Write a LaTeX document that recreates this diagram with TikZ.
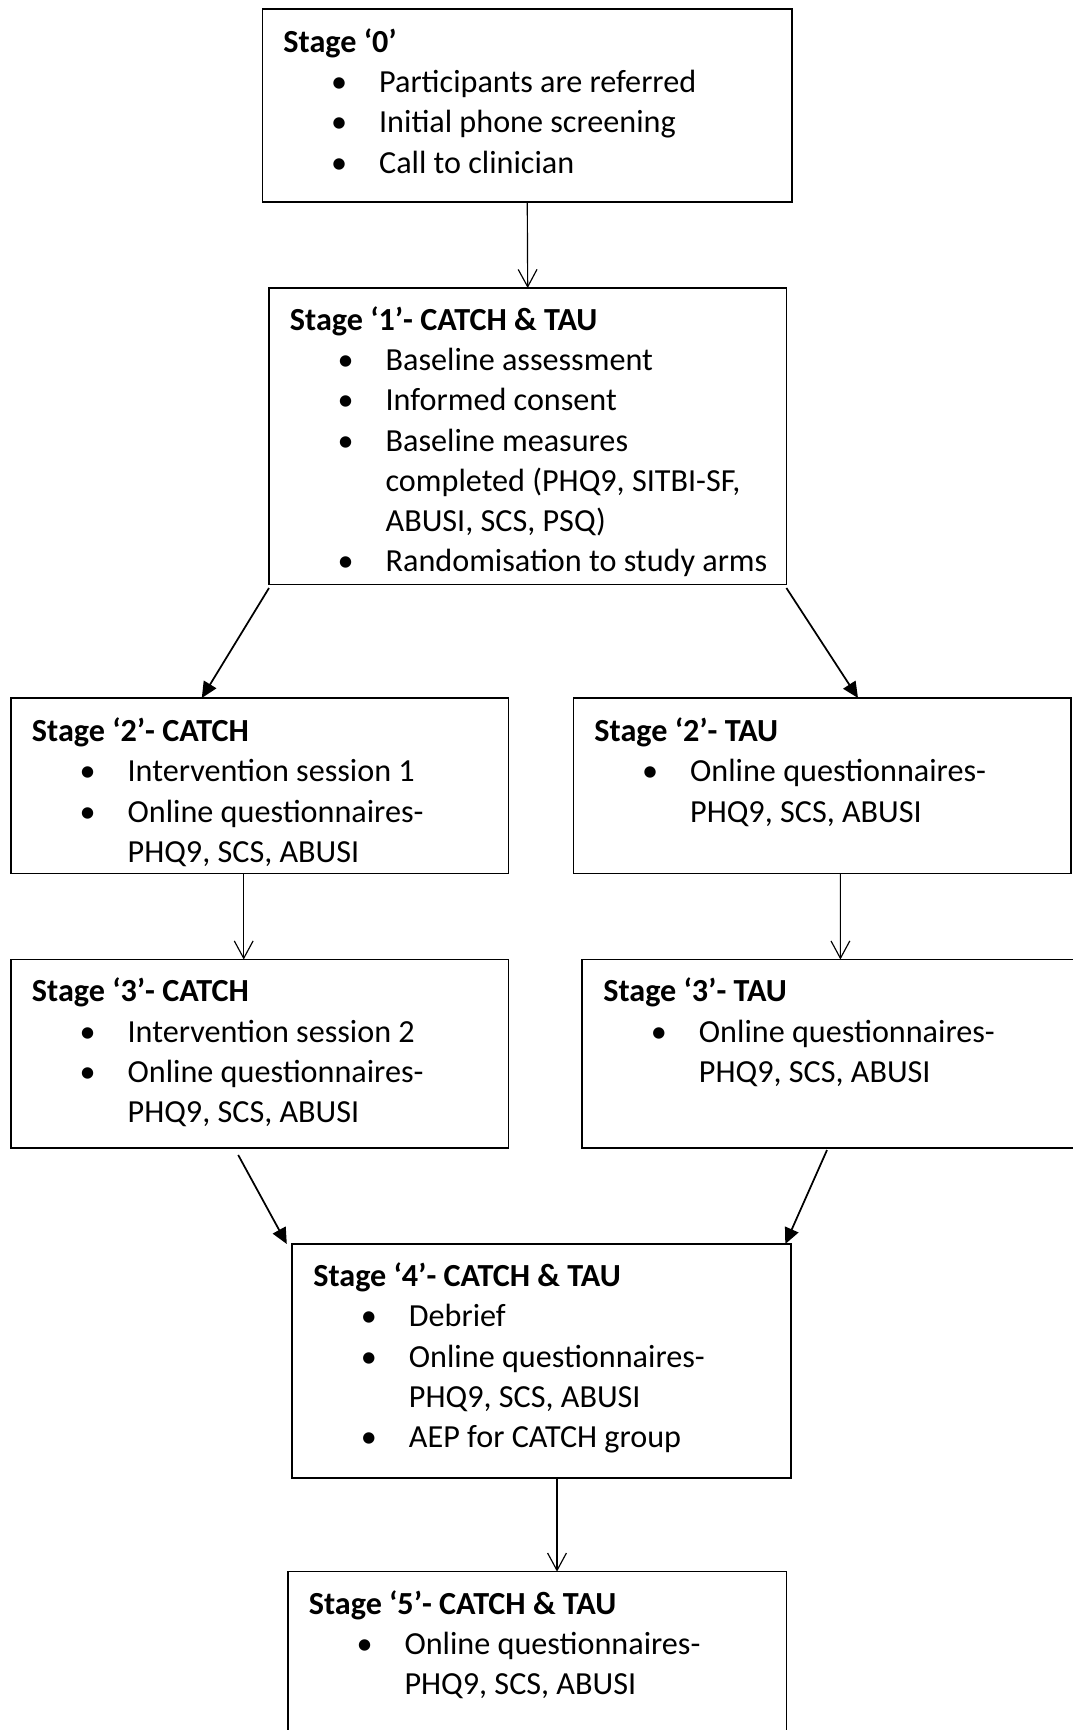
\documentclass[tikz,border=0pt]{standalone}
\usepackage{fontspec}
\usepackage{array}
\setmainfont{Carlito}
\usetikzlibrary{arrows.meta}

\newcolumntype{B}{@{\hspace{5.4pt}}wc{27.6pt}@{}l@{}}
\newcommand{\stagehead}[1]{\multicolumn{2}{@{}l@{}}{\bfseries #1}}

\begin{document}
\begin{tikzpicture}
        [x=0.345pt,y=-0.345pt,
         stagebox/.style={draw,line width=0.6pt,anchor=north west,inner sep=0pt,outer sep=0pt},
         stagetext/.style={anchor=base west,inner sep=0pt,font=\fontsize{11.1pt}{13.9pt}\selectfont},
         nextstep/.style={-{Straight Barb[length=6pt,width=6.5pt]},line width=0.4pt},
         splitstep/.style={-{Triangle[length=5.5pt,width=5pt]},line width=0.6pt}]
        \useasboundingbox (0,0) rectangle (1072,1730);

        % boxes
        \node[stagebox,minimum width=529.5*0.345pt,minimum height=193*0.345pt] (b0) at (262.5,8.8) {};
        \node[stagebox,minimum width=517.4*0.345pt,minimum height=296.5*0.345pt] (b1) at (269,288) {};
        \node[stagebox,minimum width=497.4*0.345pt,minimum height=175.5*0.345pt] (b2l) at (11,698) {};
        \node[stagebox,minimum width=497.5*0.345pt,minimum height=175.5*0.345pt] (b2r) at (573.5,698) {};
        \node[stagebox,minimum width=497.4*0.345pt,minimum height=188.5*0.345pt] (b3l) at (11,959.5) {};
        \node[stagebox,minimum width=520*0.345pt,minimum height=188.5*0.345pt] (b3r) at (582.3,959.5) {};
        \node[stagebox,minimum width=498.5*0.345pt,minimum height=234*0.345pt] (b4) at (292.3,1244) {};
        \node[stagebox,minimum width=498.5*0.345pt,minimum height=200*0.345pt] (b5) at (287.9,1571.6) {};

        % texts
        \node[stagetext] (t0) at (282.9,52.3) {\begin{tabular}[t]{B}
            \stagehead{Stage ‘0’}\\
            • & Participants are referred\\
            • & Initial phone screening\\
            • & Call to clinician
        \end{tabular}};
        \node[stagetext] (t1) at (289.4,330.2) {\begin{tabular}[t]{B}
            \stagehead{Stage ‘1’- CATCH \& TAU}\\
            • & Baseline assessment\\
            • & Informed consent\\
            • & Baseline measures\\
              & completed (PHQ9, SITBI-SF,\\
              & ABUSI, SCS, PSQ)\\
            • & Randomisation to study arms
        \end{tabular}};
        \node[stagetext] (t2l) at (31.4,741.6) {\begin{tabular}[t]{B}
            \stagehead{Stage ‘2’- CATCH}\\
            • & Intervention session 1\\
            • & Online questionnaires-\\
              & PHQ9, SCS, ABUSI
        \end{tabular}};
        \node[stagetext] (t2r) at (593.9,741.6) {\begin{tabular}[t]{B}
            \stagehead{Stage ‘2’- TAU}\\
            • & Online questionnaires-\\
              & PHQ9, SCS, ABUSI
        \end{tabular}};
        \node[stagetext] (t3l) at (31.4,1001.9) {\begin{tabular}[t]{B}
            \stagehead{Stage ‘3’- CATCH}\\
            • & Intervention session 2\\
            • & Online questionnaires-\\
              & PHQ9, SCS, ABUSI
        \end{tabular}};
        \node[stagetext] (t3r) at (602.7,1001.9) {\begin{tabular}[t]{B}
            \stagehead{Stage ‘3’- TAU}\\
            • & Online questionnaires-\\
              & PHQ9, SCS, ABUSI
        \end{tabular}};
        \node[stagetext] (t4) at (312.7,1286.5) {\begin{tabular}[t]{B}
            \stagehead{Stage ‘4’- CATCH \& TAU}\\
            • & Debrief\\
            • & Online questionnaires-\\
              & PHQ9, SCS, ABUSI\\
            • & AEP for CATCH group
        \end{tabular}};
        \node[stagetext] (t5) at (308.3,1614) {\begin{tabular}[t]{B}
            \stagehead{Stage ‘5’- CATCH \& TAU}\\
            • & Online questionnaires-\\
              & PHQ9, SCS, ABUSI
        \end{tabular}};

        % arrows
        \draw[nextstep] (b0.south) -- (b1.north);
        \draw[splitstep] ([shift={(0,3.5)}]b1.south west) -- ([shift={(190.8,0)}]b2l.north west);
        \draw[splitstep] ([shift={(0,3.5)}]b1.south east) -- ([shift={(284.5,0)}]b2r.north west);
        \draw[nextstep] ([shift={(232.7,0)}]b2l.south west) -- ([shift={(232.7,0)}]b3l.north west);
        \draw[nextstep] ([shift={(266.9,0)}]b2r.south west) -- ([shift={(258.1,0)}]b3r.north west);
        \draw[splitstep] ([shift={(227.2,7)}]b3l.south west) -- ([shift={(-5.5,0)}]b4.north west);
        \draw[splitstep] ([shift={(244.7,2)}]b3r.south west) -- ([shift={(-5.5,0)}]b4.north east);
        \draw[nextstep] ([shift={(264.7,0)}]b4.south west) -- ([shift={(269.1,0)}]b5.north west);
    \end{tikzpicture}
\end{document}
